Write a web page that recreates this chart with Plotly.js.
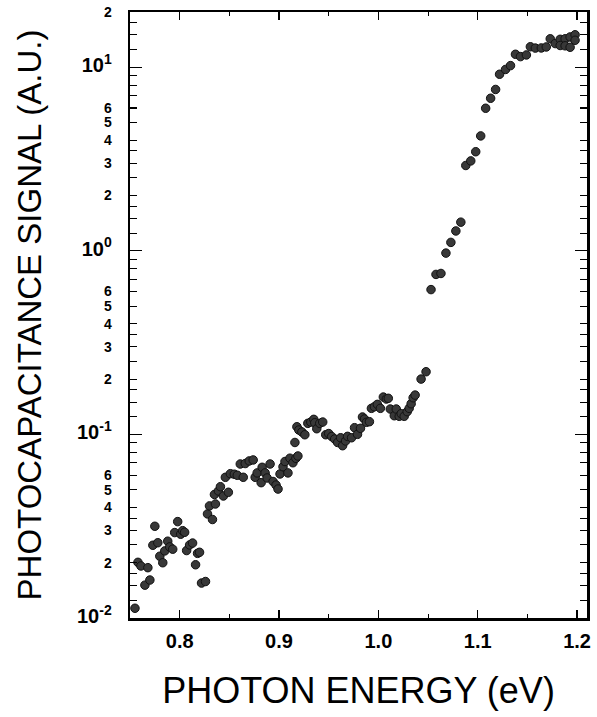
<!DOCTYPE html>
<html>
<head>
<meta charset="utf-8">
<script src="https://cdn.plot.ly/plotly-3.0.1.min.js"></script>
<style>html,body{margin:0;padding:0;background:#fff;}#chart{width:597px;height:717px;}</style>
</head>
<body>
<div id="chart"></div>
<script>
// Photon energy (eV)
const energy = [
0.755,0.758,0.761,0.765,0.768,0.770,0.773,0.775,0.778,0.780,
0.783,0.785,0.788,0.790,0.793,0.795,0.798,0.801,0.803,0.805,
0.807,0.810,0.813,0.816,0.818,0.820,0.822,0.826,0.828,0.830,
0.833,0.835,0.836,0.839,0.841,0.844,0.846,0.849,0.851,0.855,
0.858,0.861,0.864,0.866,0.870,0.874,0.876,0.878,0.882,0.883,
0.886,0.888,0.891,0.894,0.897,0.899,0.901,0.904,0.906,0.909,
0.911,0.914,0.917,0.919,0.916,0.918,0.920,0.923,0.926,0.929,
0.932,0.935,0.936,0.938,0.941,0.944,0.947,0.950,0.953,0.956,
0.959,0.962,0.964,0.967,0.969,0.973,0.976,0.979,0.982,0.984,
0.986,0.988,0.991,0.993,0.996,0.999,1.002,1.005,1.008,1.010,
1.012,1.016,1.018,1.021,1.023,1.026,1.029,1.031,1.033,1.035,
1.037,1.043,1.048,1.053,1.058,1.063,1.068,1.073,1.078,1.083,
1.088,1.093,1.098,1.103,1.108,1.113,1.118,1.122,1.128,1.133,
1.138,1.143,1.149,1.153,1.158,1.164,1.169,1.173,1.178,1.183,
1.183,1.188,1.188,1.193,1.193,1.198,1.198
];
// Photocapacitance signal (A.U.)
const signal = [
0.0113,0.0201,0.0192,0.0151,0.0188,0.0161,0.0249,0.0316,0.0257,0.0217,
0.0200,0.0232,0.0262,0.0244,0.0237,0.0292,0.0335,0.0286,0.0299,0.0293,
0.0233,0.0250,0.0256,0.0195,0.0225,0.0228,0.0155,0.0158,0.0369,0.0408,
0.0344,0.0471,0.0418,0.0492,0.0519,0.0462,0.0584,0.0484,0.0611,0.0607,
0.0599,0.0690,0.0584,0.0694,0.0717,0.0726,0.0584,0.0617,0.0546,0.0662,
0.0617,0.0579,0.0690,0.0554,0.0530,0.0504,0.0609,0.0667,0.0712,0.0617,
0.0742,0.0701,0.0741,0.0763,0.0904,0.1101,0.1057,0.1031,0.0996,0.1149,
0.1168,0.1208,0.1158,0.1074,0.1149,0.1168,0.0996,0.1011,0.0974,0.0944,
0.0904,0.0959,0.0868,0.0921,0.0976,0.0959,0.1088,0.1001,0.1080,0.1244,
0.1213,0.1164,0.1173,0.1387,0.1415,0.1458,0.1387,0.1598,0.1559,0.1573,
0.1375,0.1264,0.1375,0.1255,0.1297,0.1255,0.1330,0.1387,0.1469,0.1584,
0.1638,0.2002,0.2195,0.615,0.744,0.753,0.972,1.112,1.283,1.433,
2.917,3.090,3.467,4.227,5.98,6.78,7.57,9.16,9.73,10.21,
11.77,11.43,11.67,12.93,12.72,12.74,12.90,14.29,13.46,14.20,
13.14,14.29,13.09,14.62,12.85,15.03,14.03
];
// Y tick labels
const yLabelVals = [0.01,0.02,0.03,0.04,0.05,0.06,0.1,0.2,0.3,0.4,0.5,0.6,1,2,3,4,5,6,10,20];
const yLabelText = ['10<sup>-2</sup>','2','3','4','5','6','10<sup>-1</sup>','2','3','4','5','6','10<sup>0</sup>','2','3','4','5','6','10<sup>1</sup>','2'];
const yMinorVals = [0.0125,0.015,0.0175,0.025,0.035,0.07,0.08,0.09,0.125,0.15,0.175,0.25,0.35,0.7,0.8,0.9,1.25,1.5,1.75,2.5,3.5,7,8,9,12.5,15,17.5];
const yDecades = [0.01,0.1,1,10];
const xTickVals = [0.8,0.9,1.0,1.1,1.2];
const xTickText = ['0.8','0.9','1.0','1.1','1.2'];

const big = s => s.indexOf('10') === 0 ? '<span style="font-size:20px;font-weight:bold">' + s + '</span>' : s;

const data = [{
  type: 'scatter', mode: 'markers', x: energy, y: signal,
  marker: {size: 8.5, color: '#383838', line: {color: '#111111', width: 1}},
  hoverinfo: 'x+y', showlegend: false
}, {
  type: 'scatter', mode: 'markers', x: [], y: [], yaxis: 'y2', showlegend: false, hoverinfo: 'skip'
}];

const fontFam = '"Liberation Sans", Arial, Helvetica, sans-serif';
const layout = {
  width: 597, height: 717,
  margin: {l: 130, r: 10, t: 12, b: 99},
  paper_bgcolor: '#ffffff', plot_bgcolor: '#ffffff',
  font: {family: fontFam, color: '#000'},
  showlegend: false,
  xaxis: {
    range: [0.75, 1.21], showgrid: false, zeroline: false,
    showline: true, linewidth: 2.5, linecolor: '#000', mirror: 'ticks',
    ticks: 'inside', ticklen: 8, tickwidth: 1.2, tickcolor: '#000',
    tickmode: 'array', tickvals: xTickVals, ticktext: xTickText,
    tickfont: {size: 20, family: fontFam, weight: 'bold'},
    ticklabelstandoff: 3,
    minor: {tickmode: 'linear', tick0: 0.75, dtick: 0.05, ticks: 'inside', ticklen: 4, tickwidth: 1, tickcolor: '#000', showgrid: false},
    title: {text: 'PHOTON ENERGY (eV)', font: {size: 36, family: fontFam}, standoff: 28}
  },
  yaxis: {
    type: 'log', range: [-2, Math.log10(20)], showgrid: false, zeroline: false,
    showline: true, linewidth: 2.5, linecolor: '#000', mirror: 'ticks',
    ticks: 'inside', ticklen: 7, tickwidth: 1.2, tickcolor: '#000',
    tickmode: 'array', tickvals: yLabelVals, ticktext: yLabelText.map(big),
    tickfont: {size: 14, family: fontFam, weight: 'bold'},
    ticklabelstandoff: 13,
    minor: {tickmode: 'array', tickvals: yMinorVals, ticks: 'inside', ticklen: 7, tickwidth: 1, tickcolor: '#000', showgrid: false},
    title: {text: 'PHOTOCAPACITANCE SIGNAL (A.U.)', font: {size: 33, family: fontFam}, standoff: 26}
  },
  yaxis2: {
    type: 'log', range: [-2, Math.log10(20)], overlaying: 'y', side: 'left',
    showgrid: false, zeroline: false, showline: false, mirror: 'ticks',
    ticks: 'inside', ticklen: 12, tickwidth: 1.2, tickcolor: '#000',
    tickmode: 'array', tickvals: yDecades, showticklabels: false
  }
};

Plotly.newPlot('chart', data, layout, {staticPlot: true, displayModeBar: false});
</script>
</body>
</html>
